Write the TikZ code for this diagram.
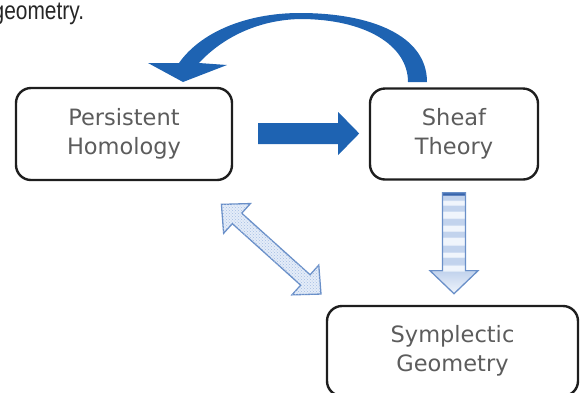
\documentclass[tikz,border=0pt]{standalone}
\usepackage{fontspec}
\usetikzlibrary{positioning, calc, patterns}
\newfontfamily\boxfont{DejaVu Sans}
\newfontfamily\leadfont[FakeStretch=0.82]{Liberation Sans}

\definecolor{arrowblue}{RGB}{30,99,178}
\definecolor{lineblue}{RGB}{105,143,200}
\definecolor{paleblue}{RGB}{228,236,248}
\definecolor{dotblue}{RGB}{165,190,228}
\definecolor{bandblue}{RGB}{194,211,237}
\definecolor{bandwhite}{RGB}{240,245,252}
\definecolor{edgeblue}{RGB}{55,100,172}
\definecolor{boxtext}{RGB}{92,92,92}
\definecolor{boxline}{RGB}{30,30,30}

% striped fill for the downward arrow (bottom to top)
\pgfdeclareverticalshading{bands}{100bp}{color(0bp)=(bandwhite); color(25bp)=(bandwhite);
  color(36bp)=(bandblue); color(36.5bp)=(bandwhite); color(38.9bp)=(bandwhite);
  color(39.5bp)=(bandblue); color(42.8bp)=(bandblue); color(43.3bp)=(bandwhite);
  color(45.3bp)=(bandwhite); color(45.8bp)=(bandblue); color(48.8bp)=(bandblue);
  color(49.3bp)=(bandwhite); color(52.7bp)=(bandwhite); color(53.2bp)=(bandblue);
  color(55.7bp)=(bandblue); color(56.2bp)=(bandwhite); color(58.7bp)=(bandwhite);
  color(59.2bp)=(bandblue); color(62.1bp)=(bandblue); color(62.6bp)=(bandwhite);
  color(65.6bp)=(bandwhite); color(66.1bp)=(bandblue); color(68.6bp)=(bandblue);
  color(69.1bp)=(bandwhite); color(71bp)=(bandwhite); color(71.5bp)=(bandblue);
  color(73.8bp)=(bandblue); color(74bp)=(edgeblue); color(100bp)=(edgeblue)}

\tikzstyle{topic} = [draw=boxline, line width=2.4pt, rounded corners=15pt, text=boxtext, align=center, font=\boxfont\fontsize{22.5}{29}\selectfont]
\tikzstyle{solidarrow} = [fill=arrowblue]
\tikzstyle{stripearrow} = [draw=lineblue, line width=1.3pt, line join=miter, shade, shading=bands]
\tikzstyle{linkarrow} = [draw=lineblue, line width=1.3pt, line join=miter, fill=paleblue, postaction={pattern=crosshatch dots, pattern color=dotblue}]

\begin{document}
\begin{tikzpicture}[x=1pt, y=-1pt]
    \useasboundingbox (0,0) rectangle (581,392);

    \node (lead) [anchor=base west, inner sep=0pt, text=black!85, font=\leadfont\fontsize{25.5}{30}\selectfont] at (-7.5,19) {geometry.};

    \node (ph) [topic, minimum width=216pt, minimum height=92pt] at (124,134) {Persistent\\Homology};
    \node (sheaf) [topic, right of = ph, node distance = 330pt, minimum width=168pt, minimum height=91pt] {Sheaf\\Theory};
    \node (symp) [topic, below of = sheaf, node distance = 217pt, xshift = -1.5pt, minimum width=251pt, minimum height=90pt] {Symplectic\\Geometry};

    % ph -> sheaf
    \path[solidarrow] ($(ph.east)+(25,-11)$) -- ++(80,0) -- ++(0,-11) -- ++(21,21.5) -- ++(-21,21.5) -- ++(0,-11) -- ++(-80,0) -- cycle;

    % sheaf back to ph, over the top
    \path[solidarrow] (427,82) .. controls (427,35) and (370,13) .. (300,13)
        .. controls (245,13) and (200,33) .. (179,63)
        -- (148,63) -- (183,82) -- (227,65) -- (199,63)
        .. controls (220,40) and (255,20) .. (300,19)
        .. controls (365,19) and (408,45) .. (408,82) -- cycle;

    % sheaf -> symp
    \path[stripearrow] ($(sheaf.south)+(-11.5,12)$) -- ++(23,0) -- ++(0,78) -- ++(12.5,0) -- ++(-24,23) -- ++(-24,-23) -- ++(12.5,0) -- cycle;

    % ph <-> symp
    \begin{scope}[shift={($(ph.south east)+(38,68)$)}, rotate=-42]
        \path[linkarrow] (-67,0) -- (-46,-20) -- (-46,-7) -- (46,-7) -- (46,-20) -- (67,0) -- (46,20) -- (46,7) -- (-46,7) -- (-46,20) -- cycle;
    \end{scope}
\end{tikzpicture}
\end{document}
